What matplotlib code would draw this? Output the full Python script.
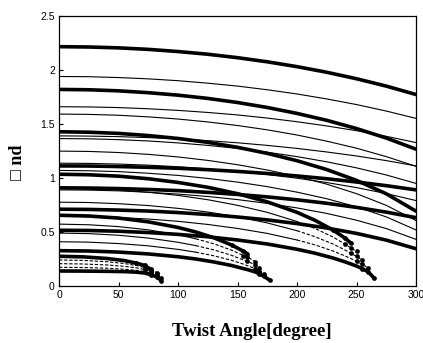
import numpy as np
import matplotlib
matplotlib.use('Agg')
import matplotlib.pyplot as plt

nan = np.nan

# ---------------- data ----------------
# families of curves that reach the right edge (x = 0 ... 300)
x_full = [0, 25, 50, 75, 100, 125, 150, 175, 200, 225, 250, 275, 300]

fam_a = [
    [2.216, 2.213, 2.205, 2.191, 2.171, 2.146, 2.114, 2.076, 2.031, 1.979, 1.919, 1.851, 1.773],
    [1.940, 1.938, 1.930, 1.918, 1.901, 1.878, 1.851, 1.817, 1.778, 1.732, 1.680, 1.620, 1.552],
    [1.660, 1.658, 1.652, 1.641, 1.626, 1.607, 1.584, 1.555, 1.521, 1.482, 1.438, 1.386, 1.328],
    [1.390, 1.388, 1.383, 1.374, 1.362, 1.346, 1.326, 1.302, 1.274, 1.241, 1.204, 1.161, 1.112],
    [1.112, 1.111, 1.106, 1.099, 1.090, 1.077, 1.061, 1.042, 1.019, 0.993, 0.963, 0.929, 0.890],
]
fam_b = [
    [1.820, 1.817, 1.807, 1.790, 1.767, 1.737, 1.699, 1.653, 1.598, 1.534, 1.458, 1.370, 1.267],
    [1.592, 1.589, 1.581, 1.566, 1.546, 1.519, 1.486, 1.446, 1.398, 1.341, 1.276, 1.198, 1.108],
    [1.365, 1.363, 1.355, 1.343, 1.325, 1.302, 1.274, 1.239, 1.198, 1.150, 1.094, 1.028, 0.950],
    [1.137, 1.135, 1.129, 1.119, 1.104, 1.085, 1.061, 1.032, 0.998, 0.958, 0.911, 0.856, 0.791],
    [0.909, 0.907, 0.902, 0.894, 0.883, 0.867, 0.848, 0.825, 0.798, 0.766, 0.728, 0.684, 0.633],
]
fam_c = [
    [1.428, 1.424, 1.413, 1.393, 1.366, 1.330, 1.284, 1.228, 1.160, 1.078, 0.978, 0.854, 0.693],
    [1.249, 1.246, 1.236, 1.219, 1.195, 1.163, 1.123, 1.074, 1.015, 0.943, 0.855, 0.747, 0.606],
    [1.070, 1.067, 1.059, 1.044, 1.024, 0.996, 0.962, 0.920, 0.869, 0.808, 0.733, 0.640, 0.519],
    [0.890, 0.888, 0.881, 0.868, 0.851, 0.829, 0.800, 0.765, 0.723, 0.672, 0.609, 0.532, 0.432],
    [0.711, 0.709, 0.703, 0.694, 0.680, 0.662, 0.639, 0.612, 0.578, 0.537, 0.487, 0.425, 0.345],
]

# family ending near 265 degrees
x_d = [0, 25, 50, 75, 100, 125, 150, 175, 200, 215, 230, 240, 245, 250, 255, 260, 265]
fam_d = [
    [1.035, 1.030, 1.017, 0.993, 0.959, 0.914, 0.855, 0.779, 0.682, 0.609, 0.520, 0.446, 0.400, nan, nan, nan, nan],
    [0.905, 0.901, 0.889, 0.868, 0.839, 0.799, 0.747, 0.682, 0.597, 0.533, 0.455, 0.390, 0.355, 0.320, nan, nan, nan],
    [0.776, 0.773, 0.762, 0.745, 0.719, 0.685, 0.641, 0.584, 0.512, 0.457, 0.390, 0.335, 0.305, 0.275, 0.240, nan, nan],
    [0.646, 0.643, 0.635, 0.620, 0.599, 0.570, 0.533, 0.487, 0.426, 0.381, 0.325, 0.280, 0.255, 0.230, 0.200, 0.165, nan],
    [0.516, 0.514, 0.507, 0.495, 0.478, 0.456, 0.426, 0.389, 0.340, 0.304, 0.260, 0.225, 0.205, 0.185, 0.160, 0.130, 0.070],
]

# family ending near 175 degrees
x_e = [0, 25, 50, 75, 100, 115, 130, 145, 155, 158, 165, 168, 172, 177]
fam_e = [
    [0.655, 0.648, 0.629, 0.594, 0.542, 0.500, 0.447, 0.380, 0.322, 0.300, nan, nan, nan, nan],
    [0.573, 0.567, 0.550, 0.520, 0.474, 0.437, 0.391, 0.332, 0.282, 0.270, 0.225, nan, nan, nan],
    [0.490, 0.485, 0.470, 0.444, 0.405, 0.374, 0.335, 0.284, 0.241, 0.230, 0.195, 0.165, nan, nan],
    [0.410, 0.406, 0.393, 0.372, 0.339, 0.313, 0.280, 0.238, 0.202, 0.190, 0.160, 0.140, 0.115, nan],
    [0.327, 0.324, 0.314, 0.297, 0.271, 0.250, 0.223, 0.190, 0.161, 0.153, 0.130, 0.115, 0.090, 0.055],
]

# family ending near 85 degrees
x_f = [0, 20, 40, 55, 65, 72, 77, 82, 86]
fam_f = [
    [0.275, 0.270, 0.255, 0.235, 0.212, 0.190, 0.155, nan, nan],
    [0.241, 0.237, 0.225, 0.208, 0.190, 0.170, 0.150, 0.125, nan],
    [0.207, 0.204, 0.195, 0.182, 0.168, 0.152, 0.135, 0.110, nan],
    [0.173, 0.171, 0.165, 0.155, 0.145, 0.133, 0.120, 0.100, 0.075],
    [0.139, 0.138, 0.136, 0.133, 0.128, 0.120, 0.105, 0.085, 0.050],
]

x_ticks = [0, 50, 100, 150, 200, 250, 300]
x_tick_labels = ['0', '50', '100', '150', '200', '250', '300']
y_ticks = [0, 0.5, 1, 1.5, 2, 2.5]
y_tick_labels = ['0', '0.5', '1', '1.5', '2', '2.5']
x_label = 'Twist Angle[degree]'
y_label = '\u25a1 nd'

# ---------------- drawing ----------------
fig = plt.figure(figsize=(4.23, 3.43), dpi=100)
ax = fig.add_axes([59 / 423, 57 / 343, 357 / 423, 270 / 343])

THICK = 2.6
THIN = 0.8
DASH = (0, (3, 1.6))


def draw_family(x, curves, split=None, term=False):
    x = np.asarray(x, float)
    n = len(curves)
    for i, y in enumerate(curves):
        y = np.asarray(y, float)
        ok = ~np.isnan(y)
        xs, ys = x[ok], y[ok]
        if i in (0, n - 1):
            ax.plot(xs, ys, color='black', lw=THICK, solid_capstyle='round',
                    solid_joinstyle='round')
        else:
            if split is None:
                ax.plot(xs, ys, color='black', lw=THIN)
            else:
                k = int(np.searchsorted(xs, split))
                k = min(k, len(xs) - 1)
                if k > 0:
                    ax.plot(xs[:k + 1], ys[:k + 1], color='black', lw=THIN)
                ax.plot(xs[k:], ys[k:], color='black', lw=THIN, ls=DASH)
        if term:
            ax.plot(xs[-3:], ys[-3:], 'o', color='black', ms=3.4, mec='none')


draw_family(x_full, fam_a)
draw_family(x_full, fam_b)
draw_family(x_full, fam_c)
draw_family(x_d, fam_d, split=190, term=True)
draw_family(x_e, fam_e, split=110, term=True)
draw_family(x_f, fam_f, split=0, term=True)

ax.set_xlim(0, 300)
ax.set_ylim(0, 2.5)
ax.set_xticks(x_ticks)
ax.set_xticklabels(x_tick_labels)
ax.set_yticks(y_ticks)
ax.set_yticklabels(y_tick_labels)
ax.tick_params(direction='in', length=3, width=0.8, labelsize=7.5, pad=3)
for lab in ax.get_xticklabels() + ax.get_yticklabels():
    lab.set_family(['Liberation Sans', 'DejaVu Sans'])
for sp in ax.spines.values():
    sp.set_linewidth(0.9)

fig.text(252 / 423, 11 / 343, x_label, ha='center', va='center',
         fontsize=13.5, fontweight='bold', family=['Liberation Serif', 'DejaVu Sans'])
fig.text(17 / 423, 1 - 162 / 343, y_label, ha='center', va='center', rotation=90,
         fontsize=13, fontweight='bold', family=['Liberation Serif', 'DejaVu Sans'])

fig.savefig('out.png', dpi=100)
